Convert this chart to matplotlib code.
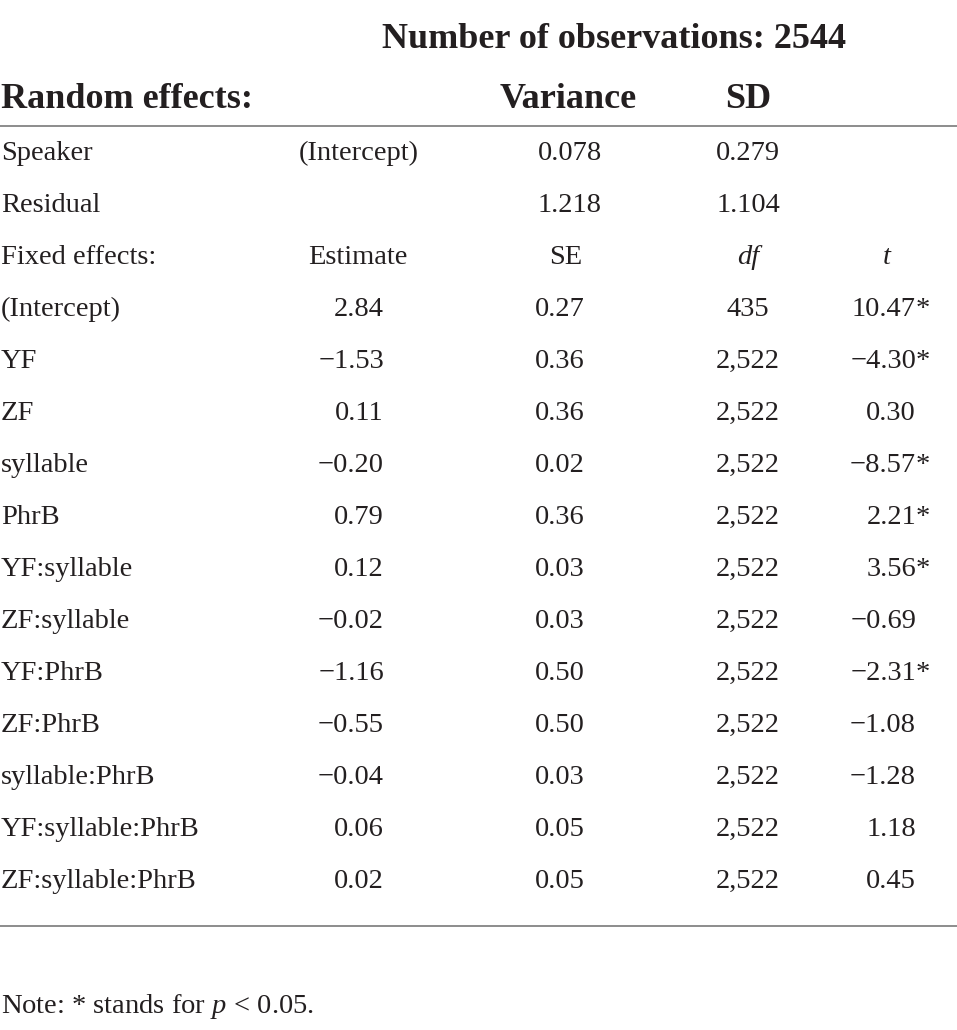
import matplotlib
matplotlib.use("Agg")
import matplotlib.pyplot as plt
from matplotlib.font_manager import FontProperties

# model summary table (mixed effects model)
n_obs = 2544

random_groups = ["Speaker", "Residual"]
random_names = ["(Intercept)", ""]
random_variance = ["0.078", "1.218"]
random_sd = ["0.279", "1.104"]

terms = ["(Intercept)", "YF", "ZF", "syllable", "PhrB", "YF:syllable",
         "ZF:syllable", "YF:PhrB", "ZF:PhrB", "syllable:PhrB",
         "YF:syllable:PhrB", "ZF:syllable:PhrB"]
estimate = ["2.84", "\u22121.53", "0.11", "\u22120.20", "0.79", "0.12",
            "\u22120.02", "\u22121.16", "\u22120.55", "\u22120.04", "0.06", "0.02"]
se = ["0.27", "0.36", "0.36", "0.02", "0.36", "0.03",
      "0.03", "0.50", "0.50", "0.03", "0.05", "0.05"]
df = ["435"] + ["2,522"] * 11
t_val = ["10.47", "\u22124.30", "0.30", "\u22128.57", "2.21", "3.56",
         "\u22120.69", "\u22122.31", "\u22121.08", "\u22121.28", "1.18", "0.45"]
signif = [True, True, False, True, True, True, False, True, False, False, False, False]

plt.rcParams['font.family'] = ['Liberation Serif', 'DejaVu Serif']
plt.rcParams['mathtext.fontset'] = 'custom'
plt.rcParams['mathtext.rm'] = 'Liberation Serif'
plt.rcParams['mathtext.it'] = 'Liberation Serif:italic'
ink = "#231f20"

fig = plt.figure(figsize=(9.57, 10.3), dpi=100)
ax = fig.add_axes([0, 0, 1, 1])
ax.set_xlim(0, 957)
ax.set_ylim(1030, 0)
ax.axis("off")

fs = 20.5
bfs = 26

# height above baseline of a line box, so "top" alignment lands on the baseline
rend = fig.canvas.get_renderer()
w, h, d = rend.get_text_width_height_descent("lp", FontProperties(family="Liberation Serif", size=fs), ismath=False)
asc = h - d


def cell(x, y, s, ha, **kw):
    ax.text(x, y - asc, s, ha=ha, va="top", fontsize=fs, color=ink, **kw)


# column positions (pixels)
x_name = 1
x_mid = 359
x_est = 384
x_se = 585
x_df = 748
x_t = 916

ax.text(614, 48, "Number of observations: %d" % n_obs, ha="center", va="baseline",
        fontsize=bfs, fontweight="bold", color=ink)
ax.text(x_name, 108, "Random effects:", ha="left", va="baseline",
        fontsize=bfs, fontweight="bold", color=ink)
ax.text(568, 108, "Variance", ha="center", va="baseline",
        fontsize=bfs, fontweight="bold", color=ink)
ax.text(748, 108, "SD", ha="center", va="baseline",
        fontsize=bfs, fontweight="bold", color=ink)

ax.plot([0, 957], [125.5, 125.5], color="#8c8c8c", lw=1.4)

row_h = 52
base = 160

for i in range(len(random_groups)):
    y = base + i * row_h
    cell(x_name, y, random_groups[i], "left")
    cell(x_mid, y, random_names[i], "center")
    cell(570, y, random_variance[i], "center")
    cell(x_df, y, random_sd[i], "center")

y = base + 2 * row_h
cell(x_name, y, "Fixed effects:", "left")
cell(358, y, "Estimate", "center")
cell(566, y, "SE", "center")
cell(x_df, y, "df", "center", style="italic")
cell(887, y, "t", "center", style="italic")

for i, term in enumerate(terms):
    y = base + (i + 3) * row_h
    cell(x_name, y, term, "left")
    cell(x_est, y, estimate[i], "right")
    cell(x_se, y, se[i], "right")
    cell(x_df, y, df[i], "center")
    cell(x_t, y, t_val[i], "right")
    if signif[i]:
        cell(x_t, y, "*", "left")

ax.plot([0, 957], [926, 926], color="#8c8c8c", lw=1.4)

ax.text(x_name, 1013, "Note: * stands for $p\\,{<}\\,0.05$.", ha="left", va="baseline",
        fontsize=fs, color=ink)

fig.savefig("out.png", dpi=100)
